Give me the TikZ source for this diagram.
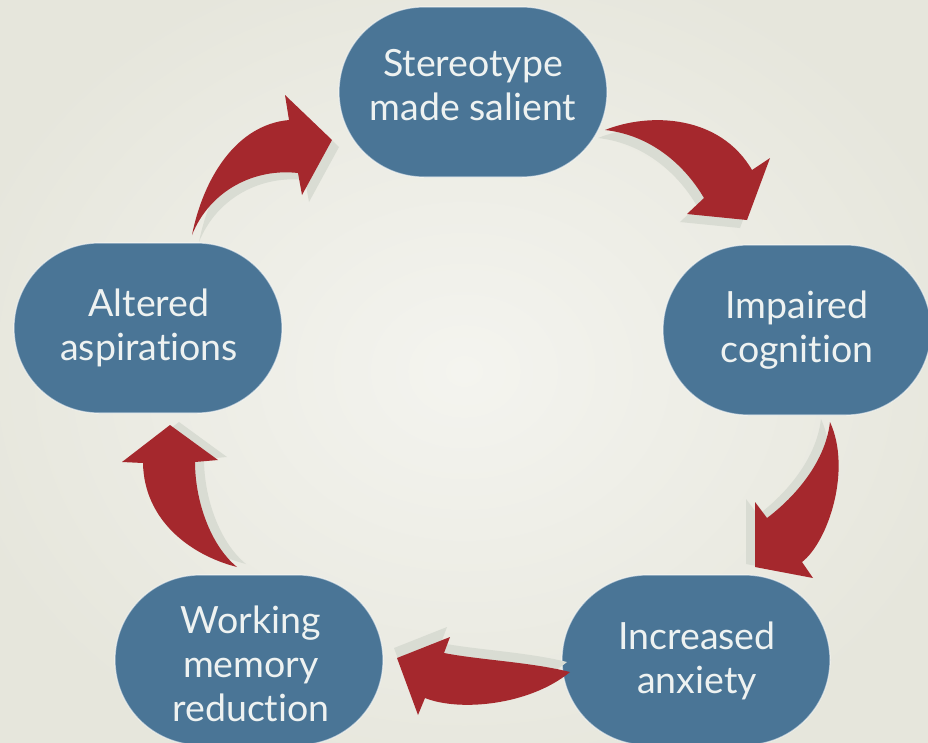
\documentclass[tikz,border=0pt]{standalone}
\usepackage{fontspec}
\setmainfont[RawFeature={-liga;-dlig;-calt;-clig}]{Lato}
\definecolor{bgin}{HTML}{F4F4EF}
\definecolor{bgout}{HTML}{E6E6DC}
\definecolor{nodeblue}{HTML}{4A7596}
\definecolor{arrowred}{HTML}{A5282D}
\definecolor{shadowc}{HTML}{D9DCD3}
\definecolor{textc}{HTML}{EEF2F1}
\newcommand\arrowAone[1]{\fill[#1] (605,130) .. controls (650,112) and (720,115) .. (752,170) -- (770,158) -- (747,220) -- (687,214) -- (704,198) .. controls (684,164) and (650,135) .. cycle;}
\newcommand\arrowAtwo[1]{\fill[#1] (830,422) .. controls (852,470) and (828,542) .. (802,562) -- (813,578) -- (755,567) -- (755,502) -- (767,518) .. controls (791,500) and (825,465) .. cycle;}
\newcommand\arrowAthree[1]{\fill[#1] (570,672) .. controls (530,705) and (460,712) .. (425,698) -- (418,715) -- (397,658) -- (450,637) -- (444,653) .. controls (480,660) and (530,662) .. cycle;}
\newcommand\arrowAfour[1]{\fill[#1] (237,567) .. controls (210,545) and (195,500) .. (195,462) -- (218,460) -- (170,425) -- (122,462) -- (143,463) .. controls (144,520) and (190,555) .. cycle;}
\newcommand\arrowAfive[1]{\fill[#1] (192,235) .. controls (203,180) and (235,125) .. (289,120) -- (285,95) -- (332,140) -- (302,195) -- (298,173) .. controls (255,168) and (210,190) .. cycle;}
\begin{document}
\begin{tikzpicture}[x=1pt,y=-1pt,
  stage/.style={rectangle, rounded corners=85pt, fill=nodeblue, draw=white, draw opacity=0.55, line width=1.2pt,
    minimum width=268pt, minimum height=170pt},
  stagetext/.style={text=textc, font=\fontsize{37.5}{44}\selectfont, align=center, inner sep=0pt},
  cyc/.style={fill=arrowred},
  cycshadow/.style={fill=shadowc}
]
\useasboundingbox (0,0) rectangle (928,742);
\clip (0,0) rectangle (928,742);
\shade[inner color=bgin, outer color=bgout] (-60,-60) rectangle (988,802);

\node[stage] (s) at (473,92) {};
\node[stagetext] (st) at (473,85) {Stereotype\\made salient};
\node[stage] (ic) at (797,330) {};
\node[stagetext] (ict) at (797,330) {Impaired\\cogni\kern0pt tion};
\node[stage] (ia) at (696,660) {};
\node[stagetext] (iat) at (697,661) {Increased\\anxiety};
\node[stage] (wm) at (249,660) {};
\node[stagetext] (wmt) at (251,664) {Working\\memory\\reduction};
\node[stage] (aa) at (148,328) {};
\node[stagetext] (aat) at (149,328) {Altered\\aspira\kern0pt tions};

\arrowAone{cycshadow, shift={(-7,8)}}
\arrowAone{cyc}
\arrowAtwo{cycshadow, shift={(-9,-3)}}
\arrowAtwo{cyc}
\arrowAthree{cycshadow, shift={(-3,-10)}}
\arrowAthree{cyc}
\arrowAfour{cycshadow, shift={(9,-3)}}
\arrowAfour{cyc}
\arrowAfive{cycshadow, shift={(7,7)}}
\arrowAfive{cyc}
\end{tikzpicture}
\end{document}
